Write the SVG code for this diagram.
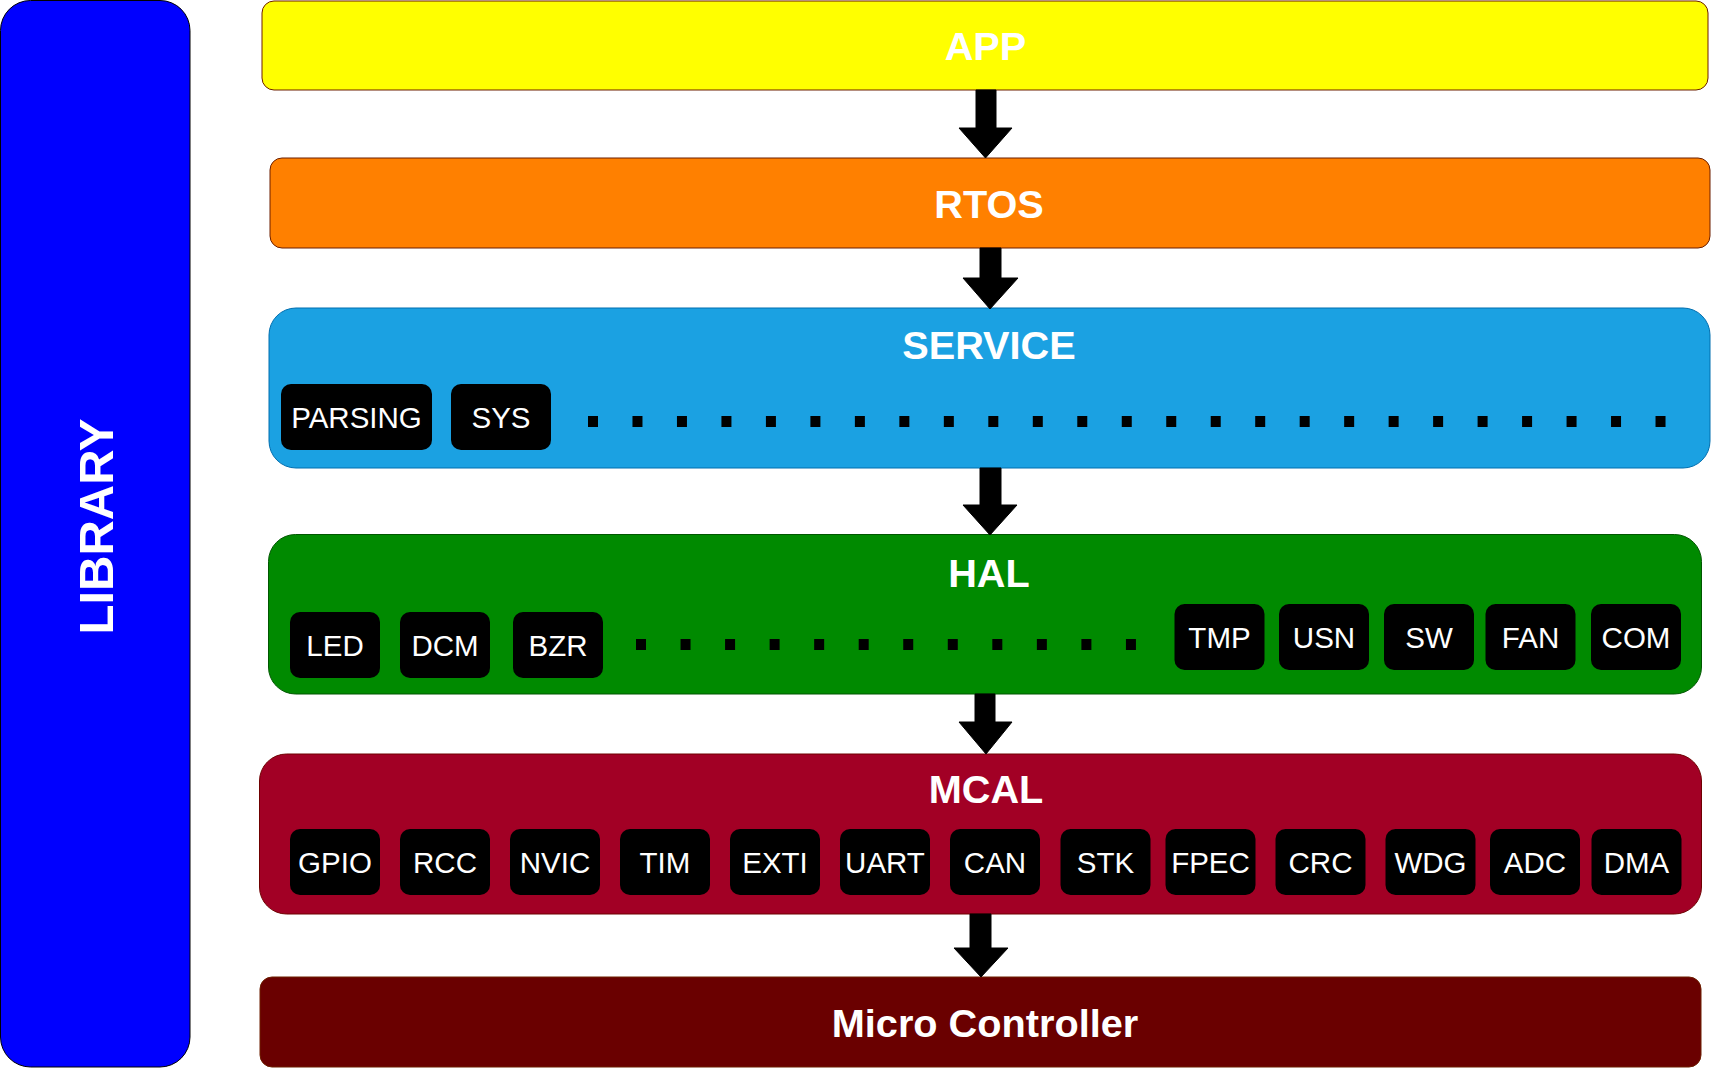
<svg xmlns="http://www.w3.org/2000/svg" width="1713" height="1069" viewBox="0 0 1713 1069">
<style>
.layer-title{font-family:"Liberation Sans",Arial,sans-serif;font-weight:bold;font-size:39.7px;fill:#fff;text-anchor:middle}
.mod rect{fill:#000}
.mod text{font-family:"Liberation Sans",Arial,sans-serif;font-size:29.5px;fill:#fff;text-anchor:middle}
.arrow{fill:#000;stroke:#000;stroke-width:1}
.dots{stroke:#000;stroke-width:11;fill:none}
</style>
<rect width="1713" height="1069" fill="#fff"/>

<g id="library">
<rect x="0.5" y="0.5" width="189.5" height="1066.5" rx="30" ry="30" fill="#0000FF" stroke="#000"/>
<text class="layer-title" transform="translate(113.3,526.5) rotate(-90)" x="0" y="0" style="font-size:49px">LIBRARY</text>
</g>

<g id="app">
<rect x="262" y="1" width="1446" height="89" rx="12" fill="#FFFF00" stroke="#6D1F00"/>
<text class="layer-title" x="985.5" y="60">APP</text>
</g>

<g id="rtos">
<rect x="270" y="158" width="1440" height="90" rx="12" fill="#FF8000" stroke="#6D1F00"/>
<text class="layer-title" x="989" y="218">RTOS</text>
</g>

<g id="service">
<rect x="269" y="308" width="1441" height="160" rx="27" fill="#1BA1E2" stroke="#006EAF"/>
<text class="layer-title" x="989" y="359">SERVICE</text>
<g class="mod" id="svc-parsing"><rect x="281" y="384" width="151" height="66" rx="10"/><text x="356.5" y="427.5">PARSING</text></g>
<g class="mod" id="svc-sys"><rect x="451" y="384" width="100" height="66" rx="10"/><text x="501" y="427.5">SYS</text></g>
<line class="dots" x1="588" y1="421.5" x2="1666" y2="421.5" stroke-dasharray="10 34.48"/>
</g>

<g id="hal">
<rect x="268.5" y="534.5" width="1433" height="159.5" rx="27" fill="#008A00" stroke="#005700"/>
<text class="layer-title" x="989" y="587">HAL</text>
<g class="mod" id="hal-led"><rect x="290" y="612" width="90" height="66" rx="10"/><text x="335" y="655.5">LED</text></g>
<g class="mod" id="hal-dcm"><rect x="400" y="612" width="90" height="66" rx="10"/><text x="445" y="655.5">DCM</text></g>
<g class="mod" id="hal-bzr"><rect x="513" y="612" width="90" height="66" rx="10"/><text x="558" y="655.5">BZR</text></g>
<line class="dots" x1="636" y1="644.5" x2="1136" y2="644.5" stroke-dasharray="10 34.54"/>
<g class="mod" id="hal-tmp"><rect x="1174.5" y="604" width="90" height="66" rx="10"/><text x="1219.5" y="647.5">TMP</text></g>
<g class="mod" id="hal-usn"><rect x="1279" y="604" width="90" height="66" rx="10"/><text x="1324" y="647.5">USN</text></g>
<g class="mod" id="hal-sw"><rect x="1384" y="604" width="90" height="66" rx="10"/><text x="1429" y="647.5">SW</text></g>
<g class="mod" id="hal-fan"><rect x="1485.5" y="604" width="90" height="66" rx="10"/><text x="1530.5" y="647.5">FAN</text></g>
<g class="mod" id="hal-com"><rect x="1591" y="604" width="90" height="66" rx="10"/><text x="1636" y="647.5">COM</text></g>
</g>

<g id="mcal">
<rect x="259.5" y="754" width="1442" height="160" rx="27" fill="#A20025" stroke="#6F0000"/>
<text class="layer-title" x="986" y="803">MCAL</text>
<g class="mod" id="mcal-gpio"><rect x="290" y="829" width="90" height="66" rx="10"/><text x="335" y="872.5">GPIO</text></g>
<g class="mod" id="mcal-rcc"><rect x="400" y="829" width="90" height="66" rx="10"/><text x="445" y="872.5">RCC</text></g>
<g class="mod" id="mcal-nvic"><rect x="510" y="829" width="90" height="66" rx="10"/><text x="555" y="872.5">NVIC</text></g>
<g class="mod" id="mcal-tim"><rect x="620" y="829" width="90" height="66" rx="10"/><text x="665" y="872.5">TIM</text></g>
<g class="mod" id="mcal-exti"><rect x="730" y="829" width="90" height="66" rx="10"/><text x="775" y="872.5">EXTI</text></g>
<g class="mod" id="mcal-uart"><rect x="840" y="829" width="90" height="66" rx="10"/><text x="885" y="872.5">UART</text></g>
<g class="mod" id="mcal-can"><rect x="950" y="829" width="90" height="66" rx="10"/><text x="995" y="872.5">CAN</text></g>
<g class="mod" id="mcal-stk"><rect x="1060.5" y="829" width="90" height="66" rx="10"/><text x="1105.5" y="872.5">STK</text></g>
<g class="mod" id="mcal-fpec"><rect x="1165.5" y="829" width="90" height="66" rx="10"/><text x="1210.5" y="872.5">FPEC</text></g>
<g class="mod" id="mcal-crc"><rect x="1275.5" y="829" width="90" height="66" rx="10"/><text x="1320.5" y="872.5">CRC</text></g>
<g class="mod" id="mcal-wdg"><rect x="1385.5" y="829" width="90" height="66" rx="10"/><text x="1430.5" y="872.5">WDG</text></g>
<g class="mod" id="mcal-adc"><rect x="1490" y="829" width="90" height="66" rx="10"/><text x="1535" y="872.5">ADC</text></g>
<g class="mod" id="mcal-dma"><rect x="1591.5" y="829" width="90" height="66" rx="10"/><text x="1636.5" y="872.5">DMA</text></g>
</g>

<g id="micro-controller">
<rect x="260" y="977" width="1441" height="90" rx="12" fill="#6A0000" stroke="#6D1F00"/>
<text class="layer-title" x="985" y="1037">Micro Controller</text>
</g>

<g id="connectors">
<polygon class="arrow" points="976,90 996,90 996,128 1012,128 985.5,158 959,128 976,128"/>
<polygon class="arrow" points="980,248 1001,248 1001,278 1018,278 990,309 963,278 980,278"/>
<polygon class="arrow" points="980,468 1001,468 1001,505 1017,505 990,535 963,505 980,505"/>
<polygon class="arrow" points="975,694 995,694 995,722 1012,722 986,754 959,722 975,722"/>
<polygon class="arrow" points="970,914 991,914 991,948 1008,948 981,977 954,948 970,948"/>
</g>
</svg>
